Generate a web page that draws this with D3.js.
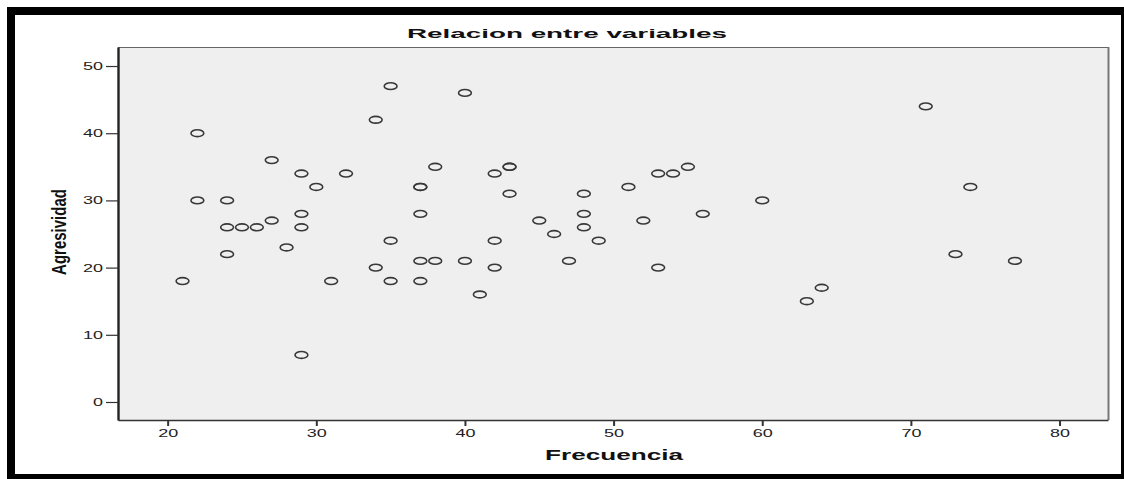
<!DOCTYPE html>
<html>
<head>
<meta charset="utf-8">
<script src="https://cdn.jsdelivr.net/npm/d3@7"></script>
<style>
  html, body { margin: 0; padding: 0; background: #fff; }
  svg { display: block; }
  text { font-family: "Liberation Sans", Arial, sans-serif; }
</style>
</head>
<body>
<svg id="chart" width="1124" height="479"></svg>
<script>
// ---- data ----
const chartTitle = "Relacion entre variables";
const xLabel = "Frecuencia";
const yLabel = "Agresividad";
const frecuencia = [21,22,22,24,24,25,26,24,27,27,28,29,29,29,29,30,31,32,34,34,35,35,35,37,37,37,37,37,38,38,40,40,41,42,42,42,43,43,43,45,46,47,48,48,48,49,51,52,53,53,54,55,56,60,63,64,71,73,74,77];
const agresividad = [18,40,30,30,26,26,26,22,36,27,23,34,28,26,7,32,18,34,42,20,47,24,18,32,32,28,21,18,35,21,46,21,16,34,24,20,35,35,31,27,25,21,31,28,26,24,32,27,34,20,34,35,28,30,15,17,44,22,32,21];
const xTicks = [20,30,40,50,60,70,80];
const yTicks = [0,10,20,30,40,50];
const xDomain = [16.66, 83.26];
const yDomain = [-2.68, 52.83];

// ---- layout ----
const plot = {left: 118, right: 1108, top: 47, bottom: 420};
const svg = d3.select("#chart");

// outer frame
svg.append("rect").attr("x", 11).attr("y", 11).attr("width", 1114).attr("height", 467)
  .attr("fill", "#fff").attr("stroke", "#000").attr("stroke-width", 8);

const x = d3.scaleLinear().domain(xDomain).range([plot.left, plot.right]);
const y = d3.scaleLinear().domain(yDomain).range([plot.bottom, plot.top]);

// plot background
svg.append("rect").attr("x", plot.left).attr("y", plot.top)
  .attr("width", plot.right - plot.left).attr("height", plot.bottom - plot.top)
  .attr("fill", "#efefef");
// top & right border
svg.append("line").attr("x1", plot.left).attr("x2", plot.right + 1)
  .attr("y1", plot.top + 0.5).attr("y2", plot.top + 0.5)
  .attr("stroke", "#666").attr("stroke-width", 1.2);
svg.append("line").attr("x1", plot.right + 0.5).attr("x2", plot.right + 0.5)
  .attr("y1", plot.top).attr("y2", plot.bottom)
  .attr("stroke", "#777").attr("stroke-width", 2);

// title
svg.append("text").attr("x", 567).attr("y", 37.5).attr("text-anchor", "middle")
  .attr("font-size", 13).attr("font-weight", "bold").attr("fill", "#111")
  .attr("textLength", 320).attr("lengthAdjust", "spacingAndGlyphs")
  .text(chartTitle);

// x axis
const gx = svg.append("g").attr("transform", `translate(0,${plot.bottom})`)
  .call(d3.axisBottom(x).tickValues(xTicks).tickSize(6).tickSizeOuter(0).tickFormat(d3.format("d")));
gx.select(".domain").attr("stroke", "#333").attr("stroke-width", 1.6);
gx.selectAll(".tick line").attr("stroke", "#333").attr("stroke-width", 2);
gx.selectAll(".tick text").attr("y", 0).attr("dy", 0)
  .attr("transform", "translate(0,17) scale(1.8,1)")
  .attr("font-size", 10).attr("fill", "#222")
  .attr("font-family", "'Liberation Sans', Arial, sans-serif");

// y axis
const gy = svg.append("g").attr("transform", `translate(${plot.left},0)`)
  .call(d3.axisLeft(y).tickValues(yTicks).tickSize(12).tickSizeOuter(0).tickFormat(d3.format("d")));
gy.select(".domain").attr("stroke", "#222").attr("stroke-width", 2.4);
gy.selectAll(".tick line").attr("stroke", "#333").attr("stroke-width", 1.2);
gy.selectAll(".tick text").attr("x", 0).attr("dy", "0.35em")
  .attr("transform", "translate(-15,0) scale(1.8,1)")
  .attr("font-size", 10).attr("fill", "#222")
  .attr("font-family", "'Liberation Sans', Arial, sans-serif");

// axis labels
svg.append("text").attr("x", 614).attr("y", 460).attr("text-anchor", "middle")
  .attr("font-size", 15).attr("font-weight", "bold").attr("fill", "#111")
  .attr("textLength", 138).attr("lengthAdjust", "spacingAndGlyphs")
  .text(xLabel);
svg.append("g").attr("transform", "translate(66,232) scale(1.3,1) rotate(-90)")
  .append("text").attr("x", 0).attr("y", 0).attr("text-anchor", "middle")
  .attr("font-size", 15).attr("font-weight", "bold").attr("fill", "#111")
  .text(yLabel);

// points
const pts = frecuencia.map((f, i) => ({f, a: agresividad[i]}));
svg.append("g").selectAll("ellipse").data(pts).join("ellipse")
  .attr("cx", d => x(d.f)).attr("cy", d => y(d.a))
  .attr("rx", 6.4).attr("ry", 3.4)
  .attr("fill", "none").attr("stroke", "#383838").attr("stroke-width", 1.6);
</script>
</body>
</html>
